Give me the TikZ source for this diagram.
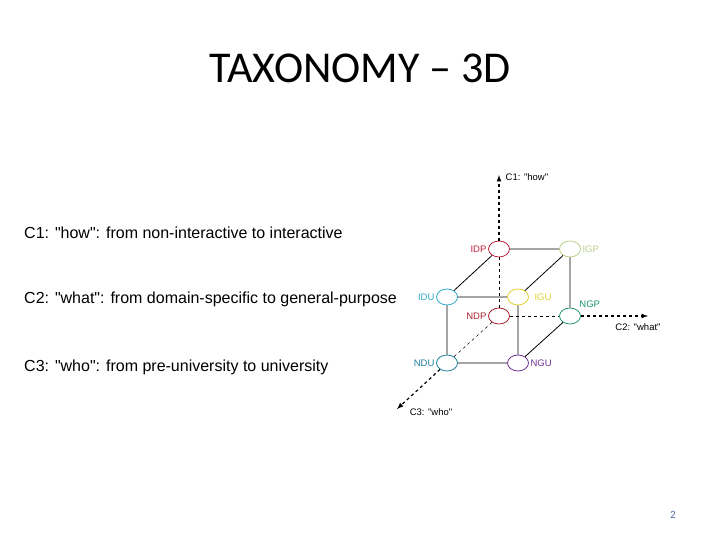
\documentclass[tikz,border=0pt]{standalone}
\usepackage{fontspec}
\usetikzlibrary{shapes.geometric}
\setmainfont{Carlito}
\newfontfamily\arial{Liberation Sans}
\begin{document}
\begin{tikzpicture}[x=1pt,y=-1pt,
 vx/.style={draw,ellipse,minimum width=21pt,minimum height=16pt,inner sep=0pt,line width=0.8pt},
 lbl/.style={font=\arial\fontsize{9.5}{11}\selectfont,inner sep=1.5pt},
 side/.style={font=\arial\fontsize{16}{19}\selectfont,anchor=west,inner sep=0pt},
 axis/.style={dashed,line width=1.2pt,-latex},
 edge/.style={line width=0.8pt}]
\useasboundingbox (0,0) rectangle (720,540);
\node (title) at (360,68) {\fontsize{44}{50}\selectfont TAXONOMY – 3D};
\node[side] (t1) at (24,233) {C1: "how": from non-interactive to interactive};
\node[side] (t2) at (24,299) {C2: "what": from domain-specific to general-purpose};
\node[side] (t3) at (24,367) {C3: "who": from pre-university to university};
\node (pg) at (673,515) {\fontsize{11}{13}\selectfont\color[HTML]{4F6FA8}2};
\definecolor{cIDP}{HTML}{C0203A}\definecolor{cIGP}{HTML}{B8D088}
\definecolor{cIDU}{HTML}{30A8C8}\definecolor{cIGU}{HTML}{E0D030}
\definecolor{cNDP}{HTML}{A82030}\definecolor{cNGP}{HTML}{209870}
\definecolor{cNDU}{HTML}{2080A0}\definecolor{cNGU}{HTML}{703090}
\node[vx,draw=cIDP] (IDP) at (499,249) {};
\node[vx,draw=cIGP] (IGP) at (570,249) {};
\node[vx,draw=cIDU] (IDU) at (447,297) {};
\node[vx,draw=cIGU] (IGU) at (518,297) {};
\node[vx,draw=cNDP] (NDP) at (499,316) {};
\node[vx,draw=cNGP] (NGP) at (570,316) {};
\node[vx,draw=cNDU] (NDU) at (447,363) {};
\node[vx,draw=cNGU] (NGU) at (518,363) {};
\node[lbl,text=cIDP,anchor=east] (lIDP) at (IDP.west) {IDP};
\node[lbl,text=cIGP,anchor=west] (lIGP) at (IGP.east) {IGP};
\node[lbl,text=cIDU,anchor=east] (lIDU) at (IDU.west) {IDU};
\node[lbl,text=cIGU,anchor=west] (lIGU) at ([xshift=4pt]IGU.east) {IGU};
\node[lbl,text=cNDP,anchor=east] (lNDP) at (NDP.west) {NDP};
\node[lbl,text=cNGP,anchor=south west] (lNGP) at ([yshift=1pt]NGP.north east) {NGP};
\node[lbl,text=cNDU,anchor=east] (lNDU) at (NDU.west) {NDU};
\node[lbl,text=cNGU,anchor=west] (lNGU) at (NGU.east) {NGU};
\coordinate (a1) at (499,175);
\coordinate (a2) at (648,316);
\coordinate (a3) at (397,409);
\draw[axis] (IDP) -- (a1);
\draw[axis] (NGP) -- (a2);
\draw[axis] (NDU) -- (a3);
\node[lbl,anchor=west] (c1) at (504,177) {C1: "how"};
\node[lbl] (c2) at (638,327) {C2: "what"};
\node[lbl] (c3) at (431,412) {C3: "who"};
\draw[edge] (IDP)--(IGP) (IDP)--(IDU) (IGP)--(IGU) (IGP)--(NGP) (IDU)--(IGU)
 (IDU)--(NDU) (IGU)--(NGU) (NGP)--(NGU) (NDU)--(NGU);
\draw[edge,dashed] (IDP)--(NDP) (NDP)--(NGP);
\draw[dashed,line width=0.5pt] (NDP)--(NDU);
\end{tikzpicture}
\end{document}
